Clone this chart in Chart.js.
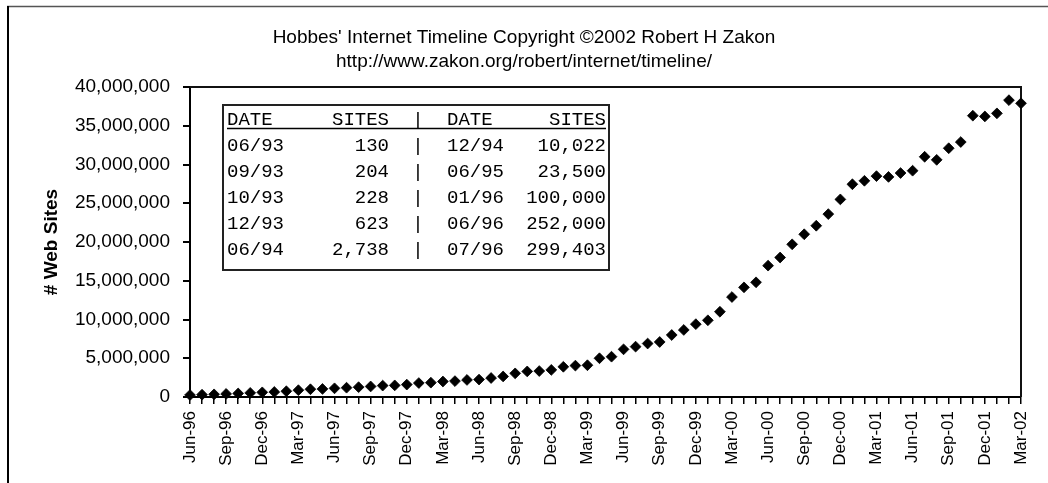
<!DOCTYPE html>
<html><head><meta charset="utf-8">
<script src="https://cdn.jsdelivr.net/npm/chart.js@4.4.1/dist/chart.umd.min.js"></script>
<style>html,body{margin:0;padding:0;background:#fff;}canvas{display:block;}</style>
</head><body>
<canvas id="c" width="1048" height="483"></canvas>
<script>
const titleLines = ["Hobbes' Internet Timeline Copyright \u00A92002 Robert H Zakon", "http://www.zakon.org/robert/internet/timeline/"];
const yAxisTitle = "# Web Sites";
const yMin = 0, yMax = 40000000, yStep = 5000000;

const months = [
  "Jun-96","Jul-96","Aug-96","Sep-96","Oct-96","Nov-96","Dec-96",
  "Jan-97","Feb-97","Mar-97","Apr-97","May-97","Jun-97","Jul-97","Aug-97","Sep-97","Oct-97","Nov-97","Dec-97",
  "Jan-98","Feb-98","Mar-98","Apr-98","May-98","Jun-98","Jul-98","Aug-98","Sep-98","Oct-98","Nov-98","Dec-98",
  "Jan-99","Feb-99","Mar-99","Apr-99","May-99","Jun-99","Jul-99","Aug-99","Sep-99","Oct-99","Nov-99","Dec-99",
  "Jan-00","Feb-00","Mar-00","Apr-00","May-00","Jun-00","Jul-00","Aug-00","Sep-00","Oct-00","Nov-00","Dec-00",
  "Jan-01","Feb-01","Mar-01","Apr-01","May-01","Jun-01","Jul-01","Aug-01","Sep-01","Oct-01","Nov-01","Dec-01",
  "Jan-02","Feb-02","Mar-02"
];

const webSites = [
  252000, 299403, 342000, 400000, 460000, 530000, 600000,
  650000, 740000, 880000, 1000000, 1040000, 1120000, 1200000, 1270000, 1360000, 1470000, 1500000, 1600000,
  1800000, 1850000, 2000000, 2050000, 2200000, 2250000, 2450000, 2650000, 3050000, 3300000, 3350000, 3500000,
  3900000, 4050000, 4100000, 5000000, 5200000, 6150000, 6500000, 6900000, 7100000, 8000000, 8650000, 9400000,
  9900000, 11000000, 12900000, 14150000, 14800000, 16950000, 18000000, 19700000, 21000000, 22100000, 23600000, 25500000,
  27450000, 27900000, 28500000, 28400000, 28900000, 29200000, 31000000, 30600000, 32100000, 32900000, 36300000, 36200000,
  36600000, 38300000, 37900000
];

const tableHeader = ["DATE", "SITES", "|", "DATE", "SITES"];
const tableDatesLeft = ["06/93", "09/93", "10/93", "12/93", "06/94"];
const tableSitesLeft = ["130", "204", "228", "623", "2,738"];
const tableDatesRight = ["12/94", "06/95", "01/96", "06/96", "07/96"];
const tableSitesRight = ["10,022", "23,500", "100,000", "252,000", "299,403"];

function fmt(n) { return String(n).replace(/\B(?=(\d{3})+(?!\d))/g, ","); }

const framePlugin = {
  id: 'frame',
  beforeDraw(chart) {
    const ctx = chart.ctx;
    ctx.save();
    ctx.fillStyle = '#fff';
    ctx.fillRect(0, 0, chart.width, chart.height);
    ctx.strokeStyle = '#555';
    ctx.lineWidth = 1.5;
    ctx.beginPath(); ctx.moveTo(7, 6.5); ctx.lineTo(chart.width, 6.5); ctx.stroke();
    ctx.strokeStyle = '#000';
    ctx.lineWidth = 2;
    ctx.beginPath(); ctx.moveTo(8, 6); ctx.lineTo(8, chart.height); ctx.stroke();
    ctx.restore();
  }
};

const plotBoxPlugin = {
  id: 'plotBox',
  beforeDatasetsDraw(chart) {
    const {ctx, chartArea: a} = chart;
    ctx.save();
    ctx.strokeStyle = '#111';
    ctx.lineWidth = 2;
    ctx.beginPath();
    ctx.moveTo(a.left, a.top); ctx.lineTo(a.right, a.top); ctx.lineTo(a.right, a.bottom);
    ctx.stroke();
    ctx.restore();
  }
};

const tablePlugin = {
  id: 'dataTable',
  afterDraw(chart) {
    const ctx = chart.ctx;
    const box = {l: 223, t: 105, r: 609, b: 270};
    const colA = 227, colB = 389, colBar = 418, colC = 447, colD = 606;
    const yHead = 120, y0 = 146, dy = 26;
    ctx.save();
    ctx.fillStyle = '#fff';
    ctx.fillRect(box.l, box.t, box.r - box.l, box.b - box.t);
    ctx.strokeStyle = '#222';
    ctx.lineWidth = 2;
    ctx.strokeRect(box.l, box.t, box.r - box.l, box.b - box.t);
    ctx.fillStyle = '#000';
    ctx.font = '19px "Liberation Mono", "DejaVu Sans Mono", monospace';
    ctx.textBaseline = 'middle';
    const row = (y, a, b, c, d) => {
      ctx.textAlign = 'left'; ctx.fillText(a, colA, y);
      ctx.textAlign = 'right'; ctx.fillText(b, colB, y);
      ctx.textAlign = 'center'; ctx.fillText('|', colBar, y);
      ctx.textAlign = 'left'; ctx.fillText(c, colC, y);
      ctx.textAlign = 'right'; ctx.fillText(d, colD, y);
    };
    row(yHead, tableHeader[0], tableHeader[1], tableHeader[3], tableHeader[4]);
    ctx.strokeStyle = '#000';
    ctx.lineWidth = 1.5;
    ctx.beginPath(); ctx.moveTo(colA, 128.5); ctx.lineTo(colD, 128.5); ctx.stroke();
    for (let i = 0; i < tableDatesLeft.length; i++) {
      row(y0 + i * dy, tableDatesLeft[i], tableSitesLeft[i], tableDatesRight[i], tableSitesRight[i]);
    }
    ctx.restore();
  }
};

new Chart(document.getElementById('c'), {
  type: 'line',
  data: {
    labels: months,
    datasets: [{
      data: webSites,
      showLine: false,
      pointStyle: 'rectRot',
      pointRadius: 5.4,
      pointHoverRadius: 5.4,
      pointBackgroundColor: '#000',
      pointBorderColor: '#000',
      pointBorderWidth: 0.8,
      clip: false
    }]
  },
  options: {
    responsive: false,
    devicePixelRatio: 1,
    animation: false,
    events: [],
    layout: {padding: {left: 0, right: 0, top: 0, bottom: 0}},
    plugins: {
      legend: {display: false},
      tooltip: {enabled: false},
      title: {
        display: true,
        text: titleLines,
        color: '#000',
        font: {family: '"Liberation Sans", Arial, sans-serif', size: 19, weight: 'normal', lineHeight: 24 / 19},
        padding: {top: 26, bottom: 13}
      }
    },
    scales: {
      x: {
        type: 'category',
        offset: false,
        border: {display: true, color: '#000', width: 2},
        grid: {display: true, drawOnChartArea: false, drawTicks: true, tickLength: 7, color: '#000', lineWidth: 1.5},
        ticks: {
          autoSkip: false,
          minRotation: 90,
          maxRotation: 90,
          padding: 7,
          color: '#000',
          font: {family: '"Liberation Sans", Arial, sans-serif', size: 17},
          callback: function (v, i) { return i % 3 === 0 ? months[i] : ''; }
        },
        afterFit(scale) { scale.height = 86; scale.paddingLeft = 0; scale.paddingRight = 27; }
      },
      y: {
        min: yMin,
        max: yMax,
        border: {display: true, color: '#000', width: 2},
        grid: {display: true, drawOnChartArea: false, drawTicks: true, tickLength: 7, color: '#000', lineWidth: 2},
        ticks: {
          stepSize: yStep,
          padding: 13,
          color: '#000',
          font: {family: '"Liberation Sans", Arial, sans-serif', size: 19},
          callback: function (v) { return fmt(v); }
        },
        title: {
          display: true,
          text: yAxisTitle,
          color: '#000',
          font: {family: '"Liberation Sans", Arial, sans-serif', size: 19, weight: 'bold'},
          padding: {top: 40, bottom: 0}
        },
        afterFit(scale) { scale.width = 190; scale.paddingTop = 0; scale.paddingBottom = 0; }
      }
    }
  },
  plugins: [framePlugin, plotBoxPlugin, tablePlugin]
});
</script>
</body></html>
